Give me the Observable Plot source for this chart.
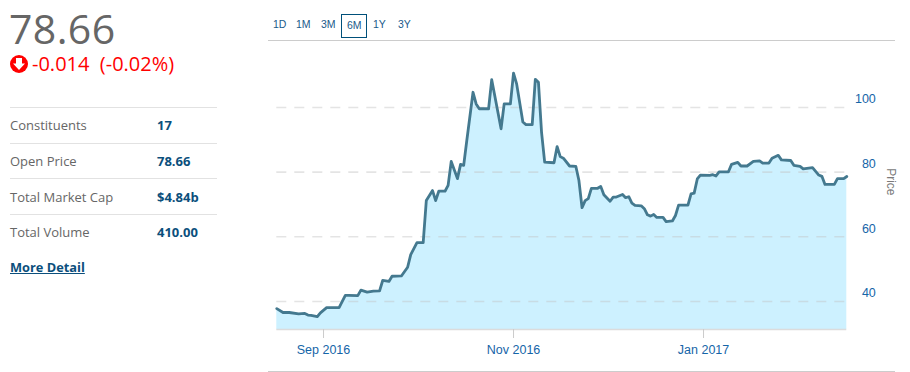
<!DOCTYPE html>
<html>
<head>
<meta charset="utf-8">
<script src="https://cdn.jsdelivr.net/npm/d3@7"></script>
<script src="https://cdn.jsdelivr.net/npm/@observablehq/plot@0.6"></script>
<style>
html,body{margin:0;padding:0;background:#fff;width:910px;height:372px;overflow:hidden;font-family:"Open Sans",sans-serif}
#chart{position:absolute;left:0;top:0}
.abs{position:absolute;white-space:pre}
.rule{position:absolute;background:#e2e2e2;height:1px}
.lab{color:#666;font-size:13px;left:10px}
.val{color:#0b4f7c;font-size:13px;font-weight:700;left:157px}
.btn{font-family:"Liberation Sans",Arial,sans-serif;font-size:10.5px;color:#1a5a8a;top:18px}
</style>
</head>
<body>
<div id="chart"></div>
<div class="rule" style="left:268px;top:40px;width:627px;background:#ccc"></div>
<div class="rule" style="left:268px;top:371px;width:627px;background:#ccc"></div>

<div class="abs" style="left:9px;top:5px;font-size:41px;line-height:46px;letter-spacing:0.4px;color:#666">78.66</div>
<svg class="abs" style="left:10px;top:55px" width="18" height="18" viewBox="0 0 18 18"><circle cx="9" cy="9" r="9" fill="#f00"/><path d="M6 3h6v5.500h3L9 15 3 8.500h3z" fill="#fff"/></svg>
<div class="abs" style="left:32px;top:52px;font-size:20px;line-height:24px;color:#f00">-0.014  (-0.02%)</div>

<div class="rule" style="left:10px;top:107px;width:207px"></div>
<div class="rule" style="left:10px;top:143px;width:207px"></div>
<div class="rule" style="left:10px;top:178px;width:207px"></div>
<div class="rule" style="left:10px;top:214px;width:207px"></div>
<div class="abs lab" style="top:116px">Constituents</div><div class="abs val" style="top:116px">17</div>
<div class="abs lab" style="top:152px">Open Price</div><div class="abs val" style="top:152px">78.66</div>
<div class="abs lab" style="top:188px">Total Market Cap</div><div class="abs val" style="top:188px">$4.84b</div>
<div class="abs lab" style="top:223px">Total Volume</div><div class="abs val" style="top:223px">410.00</div>
<div class="abs val" style="left:10px;top:258px;font-size:12.800px;text-decoration:underline">More Detail</div>

<div class="abs btn" style="left:273px">1D</div>
<div class="abs btn" style="left:296px">1M</div>
<div class="abs btn" style="left:321px">3M</div>
<div class="abs" style="left:341px;top:14px;width:24px;height:22px;border:1px solid #00507a"></div>
<div class="abs btn" style="left:347px;top:19px">6M</div>
<div class="abs btn" style="left:373px">1Y</div>
<div class="abs btn" style="left:398px">3Y</div>

<script>
const dates = ["2016-08-17","2016-08-19","2016-08-21","2016-08-24","2016-08-26","2016-08-27","2016-08-28","2016-08-30","2016-08-31","2016-09-02","2016-09-06","2016-09-08","2016-09-09","2016-09-12","2016-09-13","2016-09-15","2016-09-17","2016-09-19","2016-09-20","2016-09-22","2016-09-23","2016-09-26","2016-09-28","2016-09-29","2016-10-01","2016-10-03","2016-10-04","2016-10-06","2016-10-07","2016-10-08","2016-10-10","2016-10-11","2016-10-12","2016-10-14","2016-10-15","2016-10-16","2016-10-17","2016-10-19","2016-10-20","2016-10-21","2016-10-24","2016-10-25","2016-10-28","2016-10-29","2016-10-31","2016-11-01","2016-11-02","2016-11-04","2016-11-05","2016-11-07","2016-11-08","2016-11-09","2016-11-10","2016-11-11","2016-11-14","2016-11-15","2016-11-16","2016-11-17","2016-11-19","2016-11-21","2016-11-22","2016-11-23","2016-11-24","2016-11-25","2016-11-26","2016-11-28","2016-11-29","2016-11-30","2016-12-02","2016-12-03","2016-12-04","2016-12-06","2016-12-07","2016-12-08","2016-12-09","2016-12-10","2016-12-12","2016-12-13","2016-12-14","2016-12-15","2016-12-16","2016-12-17","2016-12-19","2016-12-20","2016-12-22","2016-12-23","2016-12-24","2016-12-27","2016-12-28","2016-12-29","2016-12-30","2016-12-31","2017-01-03","2017-01-04","2017-01-05","2017-01-06","2017-01-09","2017-01-10","2017-01-12","2017-01-13","2017-01-15","2017-01-17","2017-01-19","2017-01-20","2017-01-22","2017-01-23","2017-01-25","2017-01-26","2017-01-29","2017-01-30","2017-02-01","2017-02-02","2017-02-05","2017-02-07","2017-02-08","2017-02-09","2017-02-12","2017-02-13","2017-02-15","2017-02-16"];
const prices = [37.8,36.6,36.6,36.2,36.3,35.8,35.7,35.3,36.5,38.1,38.1,41.9,41.9,41.8,43.5,42.9,43.2,43.3,46.5,46.2,47.8,47.9,50.6,54.5,58.2,58.2,71.2,74.3,71.2,74.1,74.1,75.9,83.3,78,82.4,82.1,89.8,104.7,101.1,99.6,99.6,108.6,93.4,101.1,101.1,110.6,107.3,95.5,94.7,94.7,108.7,107.8,92.3,83.1,82.9,87.9,84.8,84.3,81.9,81.8,77.4,69,71.2,71.8,75,75,75.6,73,71,72.3,72.3,73.1,72.1,72.4,70.4,69.7,69.6,68.7,66.8,66.4,66.9,66,66,64.7,64.9,66.6,69.8,69.8,73.3,73.5,77.9,79.1,79,79.2,78.8,80.1,80.1,82.4,83,81.9,81.9,83.3,83.5,82.8,82.8,84.3,85.2,83.8,83.6,82.1,81.8,81,81.4,79.1,78.7,76.2,76.2,78,78,78.66];
const yTicks = [40,60,80,100];
const xTicks = ["2016-09-01","2016-11-01","2017-01-01"];
const xTickLabels = ["Sep 2016","Nov 2016","Jan 2017"];

const parse = d3.utcParse("%Y-%m-%d");
const table = dates.map((d,i)=>({date:parse(d),price:prices[i]}));
const xTickDates = xTicks.map(parse);

const plot = Plot.plot({
  width:910,height:372,
  marginLeft:276.3,marginRight:63.7,marginTop:41,marginBottom:43,
  style:{background:"transparent",fontFamily:"'Liberation Sans',Arial,sans-serif",fontSize:"12.500px"},
  x:{type:"utc",domain:[parse("2016-08-17"),parse("2017-02-16")]},
  y:{domain:[31.34,120.4]},
  marks:[
    Plot.areaY(table,{x:"date",y1:31.34,y2:"price",fill:"#cdf1ff"}),
    Plot.ruleY(yTicks,{stroke:"#c4c4c4",strokeOpacity:0.45,strokeWidth:1.6,strokeDasharray:"10 8"}),
    Plot.ruleY([31.34],{stroke:"#dcdcdc",strokeWidth:1.5}),
    Plot.line(table,{x:"date",y:"price",stroke:"#44798f",strokeWidth:2.800,curve:"linear"}),
    Plot.axisX({ticks:xTickDates,tickFormat:d=>xTickLabels[xTickDates.findIndex(t=>+t===+d)],tickSize:9,tickPadding:7,stroke:"#ccc",fill:"#1565a8",label:null}),
    Plot.axisY({anchor:"right",ticks:yTicks,tickSize:0,tickPadding:29,textAnchor:"end",dy:-8,fill:"#1565a8",label:null}),
    Plot.text(["Price"],{frameAnchor:"right",rotate:90,dx:44,dy:10,fill:"#7a7a7a",fontSize:12})
  ]
});
document.getElementById("chart").appendChild(plot);
</script>
</body>
</html>
